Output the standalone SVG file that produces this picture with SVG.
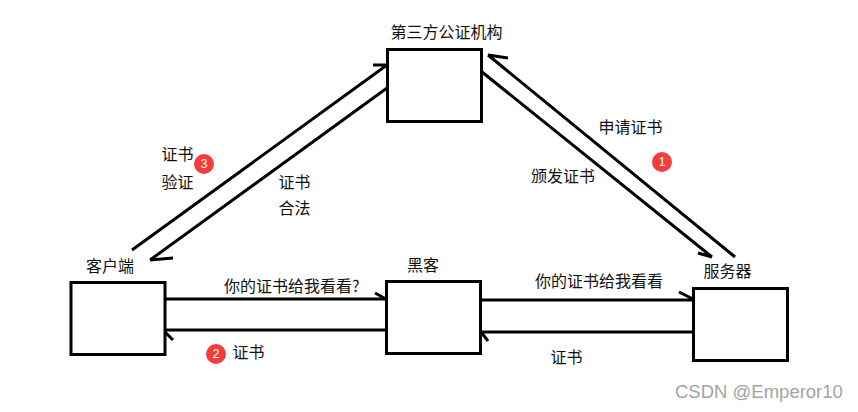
<svg xmlns="http://www.w3.org/2000/svg" width="858" height="412" viewBox="0 0 858 412">
<style>
.box{fill:#fff;stroke:#000;stroke-width:3}
.ln{fill:none;stroke:#000;stroke-width:3}
text{font-family:"Noto Sans CJK SC","Noto Sans",sans-serif;font-size:16px;fill:#111}
.b{fill:#f43c3c}
.n{font-family:"Liberation Sans",sans-serif;font-size:12px;fill:#fff;text-anchor:middle}
.wm{font-family:"Liberation Sans",sans-serif;font-size:18.500px;fill:#a3a3a3}
</style>
<rect width="858" height="412" fill="#fff"/>
<g id="connectors">
<path class="ln" d="M132 250L387 65M373 65L387 65"/>
<path class="ln" d="M387 88L150 260M150 260L173 258"/>
<path class="ln" d="M735 257L488 55M488 55L508 58"/>
<path class="ln" d="M482 72L712 257M712 257L698 253"/>
<path class="ln" d="M165 299H386M375 293L386 299"/>
<path class="ln" d="M386 330H164M164 331L173 340"/>
<path class="ln" d="M481 300H693M679 292L693 299"/>
<path class="ln" d="M693 332H481M481 332L488 341"/>
</g>
<g id="authority"><rect class="box" x="387.500" y="49.500" width="94" height="72"/><text x="390.500" y="38">第三方公证机构</text></g>
<g id="client"><rect class="box" x="71" y="282.500" width="94" height="72"/><text x="86" y="272">客户端</text></g>
<g id="hacker"><rect class="box" x="386.500" y="281.500" width="94" height="72"/><text x="407" y="270.500">黑客</text></g>
<g id="server"><rect class="box" x="693.500" y="288.500" width="94" height="72"/><text x="703.500" y="276.500">服务器</text></g>
<g id="labels">
<text x="598.500" y="133">申请证书</text>
<text x="531" y="182">颁发证书</text>
<text x="161.500" y="160">证书</text>
<text x="161.500" y="188">验证</text>
<text x="278.500" y="187.500">证书</text>
<text x="278.500" y="214">合法</text>
<text x="224" y="292">你的证书给我看看?</text>
<text x="535" y="287">你的证书给我看看</text>
<text x="232.500" y="358">证书</text>
<text x="550.500" y="363">证书</text>
</g>
<g id="badges">
<circle class="b" cx="204" cy="164" r="10"/><text class="n" x="204" y="168">3</text>
<circle class="b" cx="662" cy="162" r="10"/><text class="n" x="662" y="166">1</text>
<circle class="b" cx="216" cy="354" r="10"/><text class="n" x="216" y="358">2</text>
</g>
<text class="wm" x="675" y="398">CSDN @Emperor10</text>
</svg>
